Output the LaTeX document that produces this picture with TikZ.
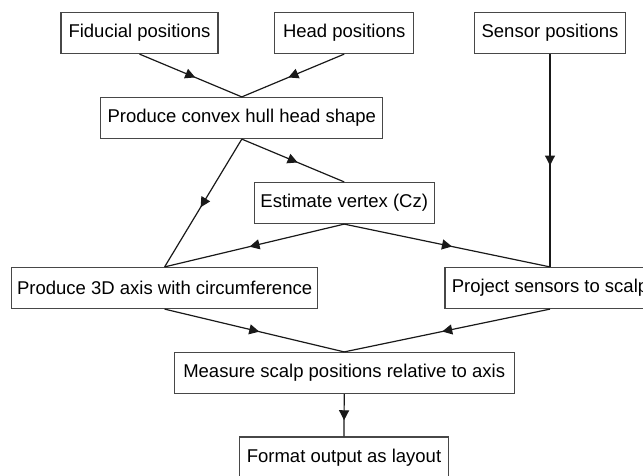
\documentclass[tikz,border=0pt]{standalone}
\usepackage{fontspec}
\setmainfont{Liberation Sans}
\usetikzlibrary{arrows.meta,decorations.markings}
\tikzset{
  box/.style={draw=black!72, line width=1.2pt, rectangle, minimum height=41pt, inner sep=0pt,
    font=\fontsize{18.5}{22}\selectfont, fill=white},
  flow/.style={draw=black!90, line width=1.2pt,
    postaction={decorate, decoration={markings,
      mark=at position 0.5 with {\arrow[xshift=5pt]{Triangle[length=10pt,width=10pt]}}}}}
}
\begin{document}
\begin{tikzpicture}[x=1pt,y=-1pt]
\useasboundingbox (0,0) rectangle (643,475);
\clip (0,0) rectangle (643,475);
\node[box, minimum width=157pt] (fid) at (139.5,33) {Fiducial positions};
\node[box, minimum width=139pt] (head) at (344.2,33) {Head positions};
\node[box, minimum width=151pt] (sensor) at (550,33) {Sensor positions};
\node[box, minimum width=282pt] (convex) at (241.8,118) {Produce convex hull head shape};
\node[box, minimum width=180pt] (vertex) at (344.2,203) {Estimate vertex (Cz)};
\node[box, minimum width=306pt] (axis) at (164.6,288) {Produce 3D axis with circumference};
\node[box, minimum width=210pt] (project) at (550,288) {Project sensors to scalp};
\node[box, minimum width=340pt] (measure) at (344.2,373) {Measure scalp positions relative to axis};
\node[box, minimum width=209pt] (format) at (344,457.5) {Format output as layout};
\draw[flow] (fid.south) -- (convex.north);
\draw[flow] (head.south) -- (convex.north);
\draw[flow] (sensor.south) -- (project.north);
\draw[flow] (convex.south) -- (vertex.north);
\draw[flow] (convex.south) -- (axis.north);
\draw[flow] (vertex.south) -- (axis.north);
\draw[flow] (vertex.south) -- (project.north);
\draw[flow] (axis.south) -- (measure.north);
\draw[flow] (project.south) -- (measure.north);
\draw[flow] (measure.south) -- (format.north);
\end{tikzpicture}
\end{document}
